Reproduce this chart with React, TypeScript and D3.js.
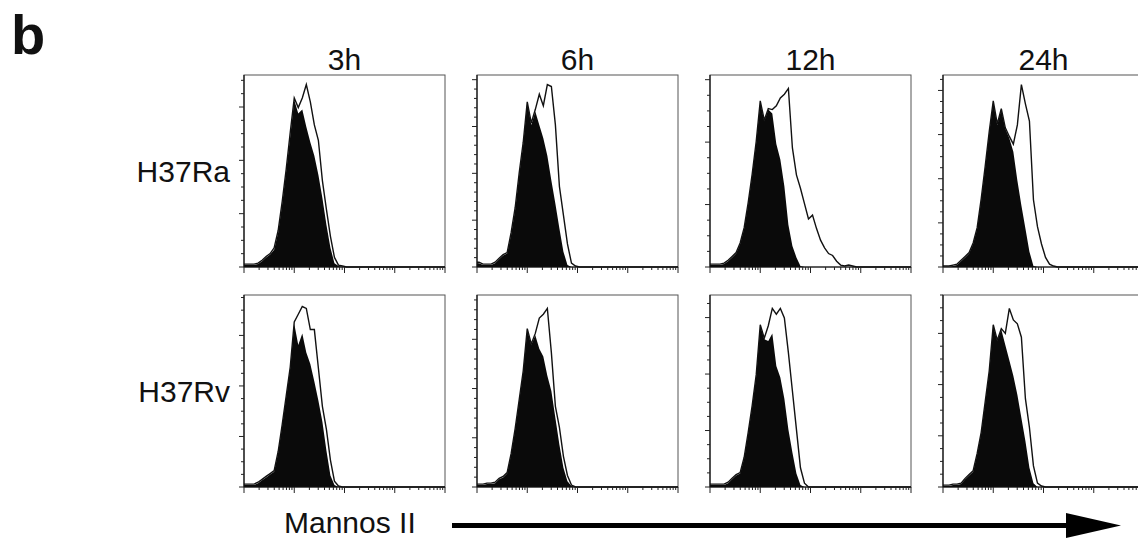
import React from "react";
import * as d3 from "d3";

// time points (columns) and strains (rows)
const times = ["3h", "6h", "12h", "24h"];
const strains = ["H37Ra", "H37Rv"];
const axisLabel = "Mannos II";

// histogram heights, % of full scale, 50 log-channels per axis (only the occupied ones listed)
const ctrlRa3h = [1, 1, 1, 1.5, 3, 5, 6.5, 9, 18, 33, 50, 68, 87, 80, 82, 73, 65, 58, 48, 36, 22, 10, 2, 0.5, 0];
const stainRa3h = [1.5, 1.5, 1.5, 2, 3.5, 5.5, 7, 10, 19, 34, 51, 70, 88, 83, 88, 95, 86, 74, 66, 45, 30, 16, 5, 1, 0.5, 0];
const ctrlRa6h = [2, 1, 1, 1, 2, 4, 6, 7, 17, 30, 48, 64, 86, 74, 81, 74, 67, 58, 45, 33, 20, 8, 1, 0];
const stainRa6h = [2.5, 1.5, 1.5, 1.5, 2.5, 4.5, 6.5, 7.5, 18, 31, 49, 65, 86, 75, 82, 90, 84, 95, 94, 74, 42, 27, 12, 2, 0.5, 0];
const ctrlRa12h = [1, 1, 1, 1.5, 3, 5, 7, 12, 20, 33, 48, 65, 86, 76, 82, 80, 64, 56, 42, 22, 11, 5, 0.5, 0];
const stainRa12h = [1.5, 1.5, 1.5, 2, 3.5, 5.5, 7.5, 12.5, 20.5, 33.5, 48.5, 65.5, 86.5, 76.5, 82.5, 82, 84, 88, 90, 93, 62, 48, 41, 33, 25, 27, 20, 14, 10, 7, 6, 3, 1, 0.5, 1, 0.5, 0];
const ctrlRa24h = [0, 0, 0.5, 1, 3, 5, 7, 12, 20, 35, 52, 70, 86, 74, 82, 72, 67, 60, 45, 32, 20, 8, 0.5, 0];
const stainRa24h = [0.5, 0.5, 1, 1.5, 3.5, 5.5, 7.5, 12.5, 20.5, 35.5, 52.5, 70.5, 86.5, 74.5, 82.5, 72.5, 68, 64, 74, 95, 85, 76, 35, 21, 12, 5, 1.5, 0.5, 0];
const ctrlRv3h = [1, 1, 1, 2, 3.5, 5, 6.5, 8, 18, 32, 47, 62, 85, 74, 80, 70, 64, 55, 45, 34, 19, 6, 1, 0];
const stainRv3h = [1.5, 1.5, 1.5, 2.5, 4, 5.5, 7, 8.5, 18.5, 32.5, 47.5, 62.5, 86, 90, 94, 93, 82, 82, 62, 42, 30, 14, 3, 0.5, 0];
const ctrlRv6h = [1, 1, 1.5, 1.5, 2, 4, 5, 7, 17, 30, 45, 60, 82, 74, 79, 72, 68, 58, 50, 36, 22, 10, 3, 0.5, 0];
const stainRv6h = [1.5, 1.5, 2, 2, 2.5, 4.5, 5.5, 7.5, 17.5, 30.5, 45.5, 60.5, 82.5, 74.5, 80, 88, 90, 93, 70, 42, 31, 16, 6, 1, 0];
const ctrlRv12h = [1, 1, 1, 1, 2, 4, 6, 7, 15, 28, 42, 58, 84, 77, 76, 80, 63, 57, 46, 30, 18, 7, 1, 0];
const stainRv12h = [1.5, 1.5, 1.5, 1.5, 2.5, 4.5, 6.5, 7.5, 15.5, 28.5, 42.5, 58.5, 84.5, 77.5, 84, 93, 90, 93, 88, 70, 50, 30, 10, 2, 0];
const ctrlRv24h = [0.5, 0.5, 1, 1, 1.5, 4, 6, 8, 17, 28, 44, 60, 84, 76, 82, 74, 66, 58, 48, 36, 24, 10, 2, 0];
const stainRv24h = [1, 1, 1.5, 1.5, 2, 4.5, 6.5, 8.5, 17.5, 28.5, 44.5, 60.5, 84.5, 76.5, 82.5, 80, 93, 87, 85, 78, 46, 31, 11, 2, 0.5, 0];

// y axis (event counts) full scale and tick steps per panel
const yMaxes = [72, 205, 123, 87, 76, 195, 68, 75];
const yMinorSteps = [5, 10, 10, 5, 5, 10, 5, 5];
const yMajorSteps = [20, 50, 40, 20, 20, 50, 20, 20];

const ctrls = [ctrlRa3h, ctrlRa6h, ctrlRa12h, ctrlRa24h, ctrlRv3h, ctrlRv6h, ctrlRv12h, ctrlRv24h];
const stains = [stainRa3h, stainRa6h, stainRa12h, stainRa24h, stainRv3h, stainRv6h, stainRv12h, stainRv24h];

const width = 1138;
const height = 539;
const pw = 201;
const ph = 192;
const nChannels = 50;
const font = "'Liberation Sans', Arial, Helvetica, sans-serif";

const colX = d3.scaleLinear().domain([0, 1]).range([244, 477]);
const rowY = d3.scaleLinear().domain([0, 1]).range([75, 295]);

const Panel = ({ ctrl, stain, yMax, minor, major, x, y }) => {
  const xc = d3.scaleLinear().domain([0, nChannels]).range([0, pw]);
  const xlog = d3.scaleLog().domain([1, 10000]).range([0, pw]);
  const yv = d3.scaleLinear().domain([0, 100]).range([ph, 0]);
  const yc = d3.scaleLinear().domain([0, yMax]).range([ph, 0]);

  const pts = (arr) => {
    const p = arr.map((v, i) => [xc(i + 0.5), yv(v)]);
    return [[0, yv(arr[0])], ...p, [xc(nChannels), yv(0)]];
  };

  const area = d3
    .area()
    .x((d) => d[0])
    .y0(ph)
    .y1((d) => d[1]);
  const line = d3.line();

  const yTicks = d3.range(0, yMax + 0.001, minor);
  const xTicks = xlog.ticks();

  return (
    <g transform={"translate(" + x + "," + y + ")"}>
      <rect x={0} y={0} width={pw} height={ph} fill="white" stroke="#555" strokeWidth={1} />
      <path d={area(pts(ctrl))} fill="#0a0a0a" />
      <path d={line(pts(stain))} fill="none" stroke="#111" strokeWidth={1.4} />
      <line x1={0} x2={0} y1={0} y2={ph} stroke="#111" strokeWidth={1.2} />
      <line x1={0} x2={pw} y1={ph} y2={ph} stroke="#111" strokeWidth={1.2} />
      {yTicks.map((t) => {
        const isMajor = Math.abs(t / major - Math.round(t / major)) < 1e-6;
        return (
          <line key={"y" + t} x1={isMajor ? -5 : -3} x2={0} y1={yc(t)} y2={yc(t)} stroke="#222" strokeWidth={1} />
        );
      })}
      {xTicks.map((t, i) => {
        const isMajor = Math.abs(Math.log10(t) - Math.round(Math.log10(t))) < 1e-6;
        return (
          <line key={"x" + i} x1={xlog(t)} x2={xlog(t)} y1={ph} y2={ph + (isMajor ? 6 : 3)} stroke="#222" strokeWidth={1} />
        );
      })}
    </g>
  );
};

const App = () => {
  return (
    <div style={{ position: "absolute", left: 0, top: 0 }}>
      <svg width={width} height={height} style={{ display: "block", background: "white" }}>
        <text x={11} y={54} fontFamily={font} fontWeight="bold" fontSize={56} fill="#111">
          b
        </text>
        {times.map((t, c) => (
          <text key={t} x={colX(c) + pw / 2} y={70} textAnchor="middle" fontFamily={font} fontSize={30} fill="#111">
            {t}
          </text>
        ))}
        {strains.map((s, r) => (
          <text key={s} x={230} y={rowY(r) + ph / 2 + 11} textAnchor="end" fontFamily={font} fontSize={30} fill="#111">
            {s}
          </text>
        ))}
        {strains.map((s, r) =>
          times.map((t, c) => {
            const k = r * times.length + c;
            return (
              <Panel
                key={s + t}
                ctrl={ctrls[k]}
                stain={stains[k]}
                yMax={yMaxes[k]}
                minor={yMinorSteps[k]}
                major={yMajorSteps[k]}
                x={colX(c)}
                y={rowY(r)}
              />
            );
          })
        )}
        <text x={284} y={533} fontFamily={font} fontSize={30} fill="#111">
          {axisLabel}
        </text>
        <line x1={452} x2={1070} y1={525.5} y2={525.5} stroke="#000" strokeWidth={5} />
        <polygon points="1066,513 1121,525.5 1066,538" fill="#000" />
      </svg>
    </div>
  );
};

export default App;
